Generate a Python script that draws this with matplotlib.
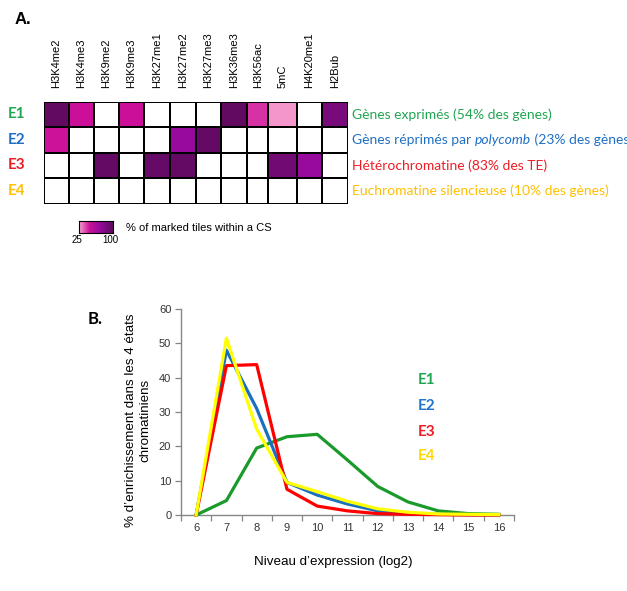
import matplotlib
matplotlib.use("Agg")
import matplotlib.pyplot as plt
import numpy as np
from matplotlib.colors import LinearSegmentedColormap

# --- donnees panneau A ---
marques = ["H3K4me2", "H3K4me3", "H3K9me2", "H3K9me3", "H3K27me1", "H3K27me2",
           "H3K27me3", "H3K36me3", "H3K56ac", "5mC", "H4K20me1", "H2Bub"]
etats = ["E1", "E2", "E3", "E4"]
nan = np.nan
# % of marked tiles within a CS (vide = non marque)
pct_E1 = [96, 48, nan, 48, nan, nan, nan, 96, 42, 27, nan, 85]
pct_E2 = [47, nan, nan, nan, nan, 70, 95, nan, nan, nan, nan, nan]
pct_E3 = [nan, nan, 95, nan, 94, 95, nan, nan, nan, 88, 69, nan]
pct_E4 = [nan] * 12
descr = ["Gènes exprimés (54% des gènes)",
         ("Gènes réprimés par ", "polycomb", " (23% des gènes)"),
         "Hétérochromatine (83% des TE)",
         "Euchromatine silencieuse (10% des gènes)"]

# --- donnees panneau B ---
niveaux = [6, 7, 8, 9, 10, 11, 12, 13, 14, 15, 16]
E1 = [0, 4.2, 19.5, 22.8, 23.5, 16.0, 8.3, 3.8, 1.2, 0.4, 0.2]
E2 = [0, 48.0, 31.0, 9.5, 5.8, 3.2, 1.2, 0.5, 0.2, 0.1, 0.0]
E3 = [0, 43.5, 43.8, 7.5, 2.6, 1.2, 0.4, 0.2, 0.1, 0.0, 0.0]
E4 = [0, 51.5, 25.0, 9.5, 6.8, 4.0, 1.8, 0.8, 0.3, 0.2, 0.1]

col_lab = ["#22a552", "#1f6fc4", "#ee1c25", "#ffc000"]
col_lig = ["#1a9a2a", "#1a6fbf", "#ff0000", "#ffff00"]
col_lab_b = ["#22a552", "#1f75cc", "#ee1c25", "#ffd800"]

arial = "Liberation Sans"
calibri = "Lato"

fig = plt.figure(figsize=(6.27, 5.91), dpi=100)
W, H = 627.0, 591.0

def fx(x):
    return x / W

def fy(y):
    return 1 - y / H

# ---------- panneau A : heatmap ----------
cmap = LinearSegmentedColormap.from_list(
    "cs", [(0.0, "#f7a0cf"), (0.3, "#cc0f99"), (0.6, "#960a9c"), (1.0, "#5a0a5a")])
cmap.set_bad("white")

col_edges = [44, 69, 93.7, 119, 144, 170, 195.7, 220.7, 247.3, 268.3, 296.7, 322.3, 348.3]
row_edges = [101.7, 127.3, 152.7, 178.3, 204]

axA = fig.add_axes([fx(44), fy(204), fx(348.3 - 44), (204 - 101.7) / H])
data = np.ma.masked_invalid(np.array([pct_E1, pct_E2, pct_E3, pct_E4]))
axA.pcolormesh(col_edges, row_edges, data, cmap=cmap, vmin=25, vmax=100,
               edgecolors="black", linewidth=1.3)
axA.set_xlim(col_edges[0], col_edges[-1])
axA.set_ylim(row_edges[-1], row_edges[0])
axA.axis("off")

for i, m in enumerate(marques):
    xc = (col_edges[i] + col_edges[i + 1]) / 2
    fig.text(fx(xc), fy(88), m, rotation=90, ha="center", va="bottom",
             fontsize=8, family=arial)

for j, e in enumerate(etats):
    yc = (row_edges[j] + row_edges[j + 1]) / 2
    fig.text(fx(8), fy(yc), e, ha="left", va="center", fontsize=11,
             fontweight="bold", family=calibri, color=col_lab[j])
    d = descr[j]
    if isinstance(d, tuple):
        # texte en trois morceaux pour mettre polycomb en italique
        t1 = fig.text(fx(352), fy(yc), d[0], ha="left", va="center",
                      fontsize=10, family=calibri, color=col_lab[j])
        t2 = axA.annotate(d[1], xy=(1, 0), xycoords=t1, ha="left", va="bottom",
                          fontsize=10, family=calibri, style="italic",
                          color=col_lab[j], annotation_clip=False, clip_on=False)
        axA.annotate(d[2], xy=(1, 0), xycoords=t2, ha="left", va="bottom",
                     fontsize=10, family=calibri, color=col_lab[j],
                     annotation_clip=False, clip_on=False)
    else:
        fig.text(fx(352), fy(yc), d, ha="left", va="center", fontsize=10,
                 family=calibri, color=col_lab[j])

fig.text(fx(15), fy(19), "A.", ha="left", va="center", fontsize=12,
         fontweight="bold", family=arial)

# legende couleur
axC = fig.add_axes([fx(79), fy(233), fx(34), 12 / H])
grad = np.linspace(25, 100, 100).reshape(1, -1)
axC.imshow(grad, aspect="auto", cmap=cmap, vmin=25, vmax=100)
axC.set_xticks([])
axC.set_yticks([])
for s in axC.spines.values():
    s.set_linewidth(0.8)
fig.text(fx(77), fy(240), "25", ha="center", va="center", fontsize=7, family=arial)
fig.text(fx(110), fy(240), "100", ha="center", va="center", fontsize=7, family=arial)
fig.text(fx(126), fy(228), "% of marked tiles within a CS", ha="left", va="center",
         fontsize=8, family=arial)

# ---------- panneau B : courbes ----------
axB = fig.add_axes([fx(181), fy(515), fx(514 - 181), (515 - 309) / H])
for serie, c in zip([E1, E2, E3, E4], col_lig):
    axB.plot(niveaux, serie, color=c, linewidth=2.3, clip_on=False, zorder=3)

axB.set_xlim(5.5, 16.5)
axB.set_ylim(0, 60)
axB.set_yticks(range(0, 61, 10))
axB.set_xticks(niveaux)
axB.set_xticks(np.arange(5.5, 16.6, 1), minor=True)
axB.tick_params(axis="x", which="major", length=0, pad=6)
axB.tick_params(axis="x", which="minor", length=4, width=0.9, color="#868686")
axB.tick_params(axis="y", length=4, width=0.9, color="#868686", pad=3)
for lab in axB.get_xticklabels() + axB.get_yticklabels():
    lab.set_fontsize(8)
    lab.set_family(arial)
    lab.set_color("#333333")
axB.spines["top"].set_visible(False)
axB.spines["right"].set_visible(False)
axB.spines["left"].set_color("#868686")
axB.spines["bottom"].set_color("#868686")
axB.spines["left"].set_linewidth(1.0)
axB.spines["bottom"].set_linewidth(1.0)

fig.text(fx(138), fy(420), "% d’enrichissement dans les 4 états\nchromatiniens",
         rotation=90, ha="center", va="center", fontsize=9.6, family=arial,
         linespacing=1.3, multialignment="center")
fig.text(fx(333), fy(562), "Niveau d’expression (log2)", ha="center", va="center",
         fontsize=9.6, family=arial)
fig.text(fx(88), fy(319), "B.", ha="left", va="center", fontsize=12,
         fontweight="bold", family=calibri)

for j, (e, yy) in enumerate(zip(etats, [380, 406.5, 431.5, 456.5])):
    fig.text(fx(418), fy(yy), e, ha="left", va="center", fontsize=11,
             fontweight="bold", family=calibri, color=col_lab_b[j])

fig.savefig("out.png", dpi=100)
